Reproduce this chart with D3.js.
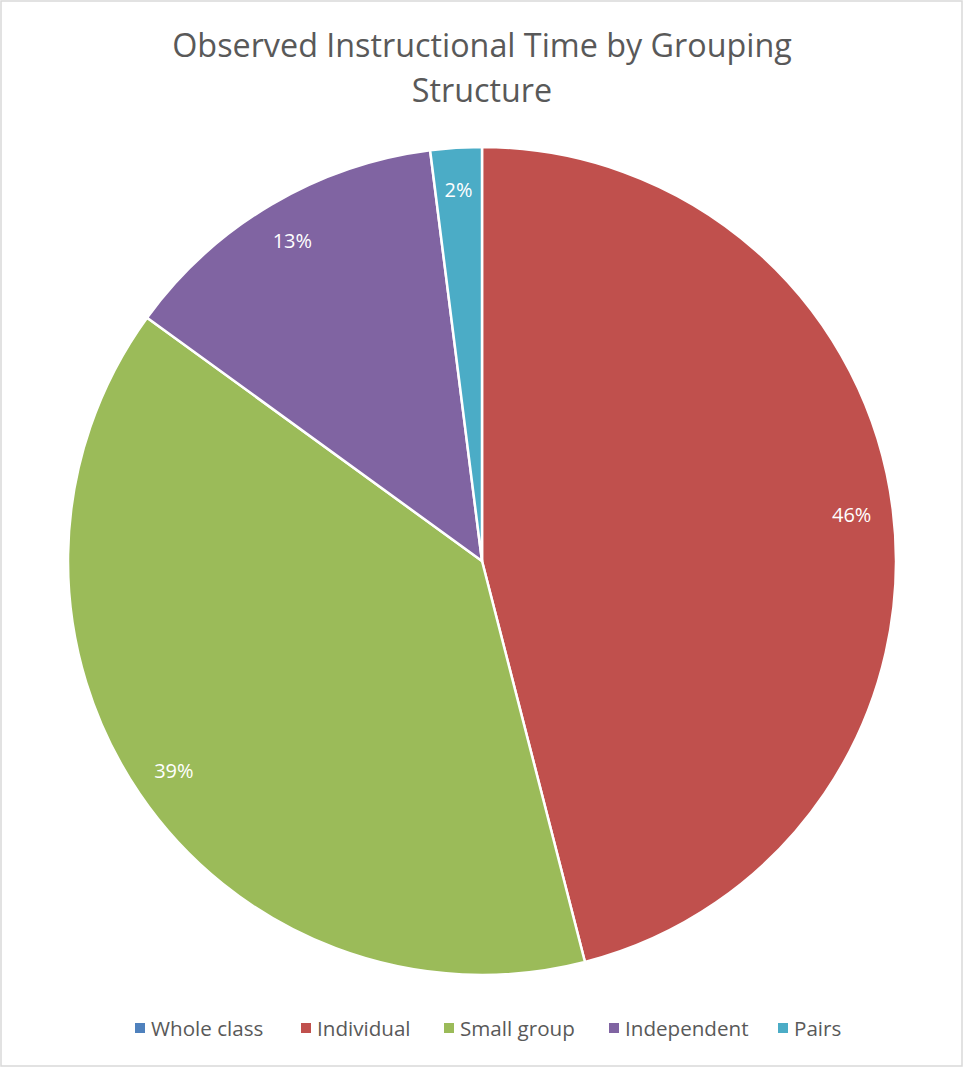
<!DOCTYPE html>
<html>
<head>
<meta charset="utf-8">
<script src="https://cdn.jsdelivr.net/npm/d3@7"></script>
<style>
  html, body { margin: 0; padding: 0; background: #fff; }
  svg { display: block; }
</style>
</head>
<body>
<svg id="chart" width="964" height="1068"></svg>
<script>
// Share of observed instructional time per grouping structure (percent)
const categories = ["Whole class", "Individual", "Small group", "Independent", "Pairs"];
const values = [0, 46, 39, 13, 2];
const colors = ["#4F81BD", "#C0504D", "#9BBB59", "#8064A2", "#4BACC6"];
const titleLines = ["Observed Instructional Time by Grouping", "Structure"];

const W = 964, H = 1068;
const cx = 482, cy = 561, R = 414;
const font = "'Open Sans', sans-serif";

const svg = d3.select("#chart");

// chart frame
svg.append("rect")
  .attr("x", 1).attr("y", 1).attr("width", W - 3).attr("height", H - 3)
  .attr("fill", "#fff").attr("stroke", "#d9d9d9").attr("stroke-width", 1.5);

// title
svg.append("g").selectAll("text").data(titleLines).join("text")
  .attr("x", cx).attr("y", (d, i) => 57 + i * 45)
  .attr("text-anchor", "middle")
  .attr("font-family", font).attr("font-size", 32.3)
  .attr("fill", "#595959")
  .text(d => d);

const data = categories.map((c, i) => ({ name: c, value: values[i], color: colors[i] }));
const pie = d3.pie().value(d => d.value).sort(null);
const arcs = pie(data);
const arc = d3.arc().innerRadius(0).outerRadius(R);
const labelArc = d3.arc().innerRadius(R * 0.9).outerRadius(R * 0.9);

const g = svg.append("g").attr("transform", `translate(${cx},${cy})`);

g.selectAll("path").data(arcs.filter(d => d.data.value > 0)).join("path")
  .attr("d", arc)
  .attr("fill", d => d.data.color)
  .attr("stroke", "#fff").attr("stroke-width", 2.5)
  .attr("stroke-linejoin", "round");

g.selectAll("text.lbl").data(arcs.filter(d => d.data.value > 0)).join("text")
  .attr("class", "lbl")
  .attr("transform", d => `translate(${labelArc.centroid(d)})`)
  .attr("text-anchor", "middle")
  .attr("dominant-baseline", "central")
  .attr("font-family", font).attr("font-size", 20)
  .attr("fill", "#fff")
  .text(d => d.data.value + "%");

// legend
const legendX = [135, 301, 444, 609, 778];
const lg = svg.append("g");
const items = lg.selectAll("g").data(data).join("g")
  .attr("transform", (d, i) => `translate(${legendX[i]},1028)`);
items.append("rect")
  .attr("x", 0).attr("y", -5).attr("width", 10).attr("height", 10)
  .attr("fill", d => d.color);
items.append("text")
  .attr("x", 16).attr("y", 0)
  .attr("dominant-baseline", "central")
  .attr("font-family", font).attr("font-size", 20.6)
  .attr("fill", "#595959")
  .text(d => d.name);
</script>
</body>
</html>
